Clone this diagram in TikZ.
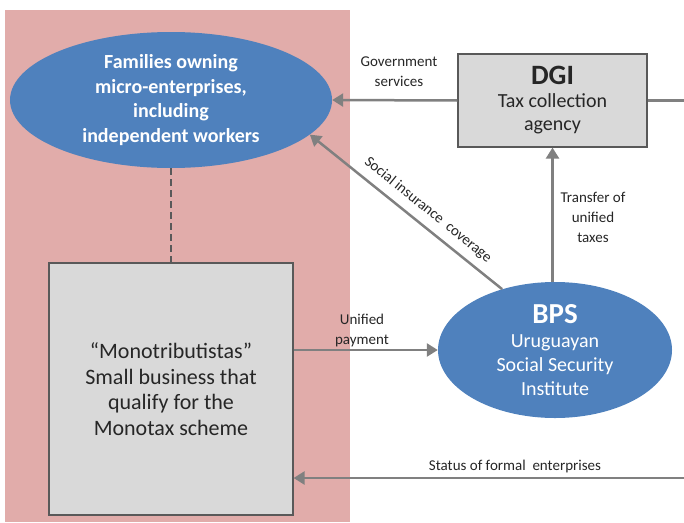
\documentclass[tikz,border=0pt]{standalone}
\usepackage{fontspec}
\setmainfont{Carlito}
\usetikzlibrary{shapes.geometric,arrows.meta}
\definecolor{pinkbg}{RGB}{225,172,170}
\definecolor{ellblue}{RGB}{79,129,189}
\definecolor{boxgray}{RGB}{217,217,217}
\definecolor{edgegray}{RGB}{89,89,89}
\definecolor{arrgray}{RGB}{128,128,128}
\definecolor{txtgray}{RGB}{38,38,38}
\tikzset{
 blueell/.style={ellipse, fill=ellblue, text=white, inner sep=0pt, align=center},
 graybox/.style={rectangle, fill=boxgray, draw=edgegray, line width=1.2pt, inner sep=0pt, align=center, text=txtgray},
 flow/.style={draw=arrgray, line width=2.5pt, -{Triangle[length=11pt,width=13pt]}},
 plainflow/.style={draw=arrgray, line width=2.5pt},
 dashlink/.style={draw=edgegray, line width=2.5pt, dash pattern=on 7pt off 4pt},
 lbl/.style={font=\fontsize{15}{20}\selectfont, align=center, text=txtgray, inner sep=1pt},
}
\begin{document}
\begin{tikzpicture}[x=1pt,y=-1pt]
\useasboundingbox (0,0) rectangle (684,522);
\fill[pinkbg] (5,10) rectangle (350,522);
\node[blueell, minimum width=322pt, minimum height=136pt, font=\bfseries\fontsize{20}{24.5}\selectfont] (fam) at (171,100) {Families owning\\micro-enterprises,\\including\\independent workers};
\node[graybox, minimum width=244pt, minimum height=252pt, font=\fontsize{22}{25.5}\selectfont] (mono) at (171,389) {“Monotributistas”\\Small business that\\qualify for the\\Monotax scheme};
\node[graybox, minimum width=189pt, minimum height=93pt, font=\fontsize{20}{23}\selectfont] (dgi) at (552.5,100.5) {{\bfseries\fontsize{28}{28}\selectfont DGI}\\Tax collection\\agency};
\node[blueell, minimum width=234pt, minimum height=136pt, font=\fontsize{20}{24}\selectfont] (bps) at (555,350) {{\bfseries\fontsize{29}{29}\selectfont BPS}\\Uruguayan\\Social Security\\Institute};
\coordinate (dgiout) at (684,100.5);
\coordinate (statusin) at (684,478);
\draw[dashlink] (fam.south) -- (mono.north);
\draw[flow] (dgi.west) -- (fam.east);
\draw[plainflow] (dgi.east) -- (dgiout);
\draw[flow] (dgi.south |- bps.north) -- (dgi.south);
\draw[flow] (bps.131) -- (fam.-14);
\draw[flow] (mono.east |- bps.west) -- (bps.west);
\draw[flow] (statusin) -- (statusin -| mono.east);
\node[lbl] (govl) at (399,72) {Government\\services};
\node[lbl] (trl) at (593,217) {Transfer of\\unified\\taxes};
\node[lbl] (upl) at (362,330) {Unified\\payment};
\node[lbl] (stl) at (515,466) {Status of formal\ \ enterprises};
\node[lbl, rotate=-39] (sil) at (428,210) {Social insurance\ \ coverage};
\end{tikzpicture}
\end{document}
